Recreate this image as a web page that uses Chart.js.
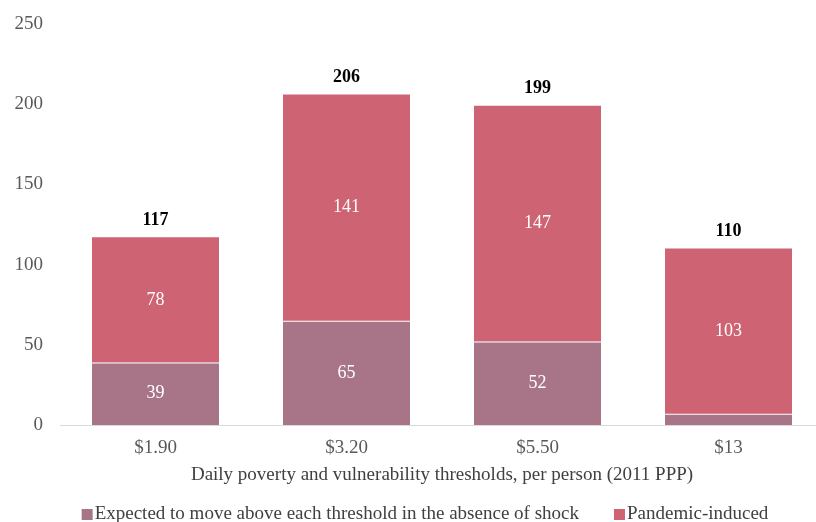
<!DOCTYPE html>
<html>
<head>
<meta charset="utf-8">
<script src="https://cdn.jsdelivr.net/npm/chart.js@4.4.0/dist/chart.umd.min.js"></script>
<style>
  html, body { margin: 0; padding: 0; background: #fff; overflow: hidden; }
  #wrap { width: 832px; height: 522px; }
</style>
</head>
<body>
<div id="wrap"><canvas id="barChart" width="832" height="522"></canvas></div>
<script>
// data
const thresholds = ["$1.90", "$3.20", "$5.50", "$13"];
const expectedAbove = [39, 65, 52, 7];
const pandemicInduced = [78, 141, 147, 103];
const totals = [117, 206, 199, 110];

const serif = "'Liberation Serif', 'Times New Roman', serif";

// white labels inside each segment, bold totals on top
const barLabels = {
  id: 'barLabels',
  afterDatasetsDraw(chart) {
    const ctx = chart.ctx;
    ctx.save();
    ctx.textAlign = 'center';
    ctx.textBaseline = 'middle';
    chart.data.datasets.forEach(function (ds, di) {
      chart.getDatasetMeta(di).data.forEach(function (bar, i) {
        if (ds.data[i] < 10) return;
        ctx.fillStyle = '#ffffff';
        ctx.font = '18px ' + serif;
        ctx.fillText(ds.data[i], bar.x, (bar.y + bar.base) / 2);
      });
    });
    const yScale = chart.scales.y;
    const xScale = chart.scales.x;
    ctx.fillStyle = '#000000';
    ctx.font = 'bold 18px ' + serif;
    ctx.textBaseline = 'bottom';
    totals.forEach(function (t, i) {
      ctx.fillText(t, xScale.getPixelForValue(i), yScale.getPixelForValue(t) - 8);
    });
    ctx.restore();
  }
};

// legend drawn by hand: small square right next to the text
const bottomLegend = {
  id: 'bottomLegend',
  afterDraw(chart) {
    const ctx = chart.ctx;
    const items = chart.data.datasets;
    ctx.save();
    ctx.font = '19px ' + serif;
    ctx.textBaseline = 'alphabetic';
    ctx.textAlign = 'left';
    const box = 11, gap = 2, spacing = 35;
    let total = 0;
    items.forEach(function (ds, i) {
      total += box + gap + ctx.measureText(ds.label).width + (i ? spacing : 0);
    });
    let x = 425 - total / 2;
    const baseY = 519;
    items.forEach(function (ds) {
      ctx.fillStyle = ds.backgroundColor;
      ctx.fillRect(x, baseY - box + 1, box, box);
      x += box + gap;
      ctx.fillStyle = '#404040';
      ctx.fillText(ds.label, x, baseY);
      x += ctx.measureText(ds.label).width + spacing;
    });
    ctx.restore();
  }
};

var ctx = document.getElementById("barChart").getContext('2d');
var myChart = new Chart(ctx, {
  type: 'bar',
  plugins: [barLabels, bottomLegend],
  data: {
    labels: thresholds,
    datasets: [{
      label: 'Expected to move above each threshold in the absence of shock',
      data: expectedAbove,
      backgroundColor: '#a87588',
      borderColor: 'rgba(255,255,255,0.4)',
      borderWidth: { top: 1 },
      barPercentage: 0.665,
      categoryPercentage: 1
    }, {
      label: 'Pandemic-induced',
      data: pandemicInduced,
      backgroundColor: '#cd6373',
      borderWidth: 0,
      barPercentage: 0.665,
      categoryPercentage: 1
    }]
  },
  options: {
    responsive: false,
    animation: false,
    layout: { padding: { left: 0, right: 8, top: 24, bottom: 36 } },
    scales: {
      x: {
        stacked: true,
        afterFit(scale) { scale.height = 61; },
        grid: { display: false, drawTicks: false },
        border: { display: true, color: '#d9d9d9', width: 1 },
        ticks: { color: '#595959', font: { family: serif, size: 19 }, padding: 12 },
        title: {
          display: true,
          text: 'Daily poverty and vulnerability thresholds, per person (2011 PPP)',
          color: '#404040',
          font: { family: serif, size: 19 },
          padding: { top: 3, bottom: 0 }
        }
      },
      y: {
        stacked: true,
        min: 0,
        max: 250,
        afterFit(scale) { scale.width = 60; scale.paddingTop = 0; },
        grid: { display: false, drawTicks: false },
        border: { display: false },
        ticks: { stepSize: 50, color: '#595959', font: { family: serif, size: 19 }, padding: 17 }
      }
    },
    plugins: {
      tooltip: { enabled: false },
      legend: { display: false }
    }
  }
});
</script>
</body>
</html>
